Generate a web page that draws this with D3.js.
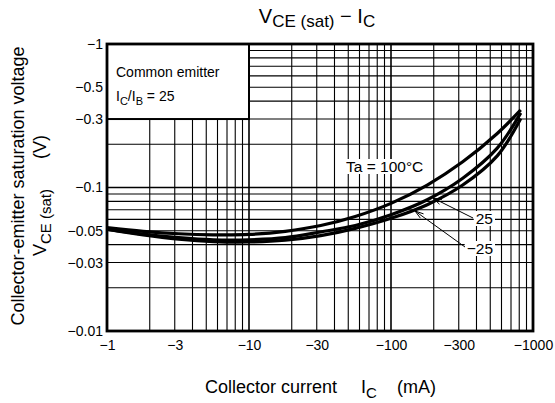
<!DOCTYPE html>
<html>
<head>
<meta charset="utf-8">
<script src="https://cdn.jsdelivr.net/npm/d3@7"></script>
<style>
  body { margin: 0; background: #fff; }
  text { font-family: "Liberation Sans", Arial, sans-serif; fill: #000; white-space: pre; }
</style>
</head>
<body>
<div id="canvas"></div>
<script>
// collector current (mA, magnitude) and VCE(sat) (V, magnitude)
const currents = [1, 1.8, 3.2, 5.6, 10, 18, 32, 56, 100, 180, 320, 560, 820];
const vHot  = [0.0525, 0.0495, 0.0476, 0.0468, 0.0471, 0.0495, 0.0543, 0.0628, 0.0775, 0.104, 0.151, 0.238, 0.347];
const vRoom = [0.0513, 0.0473, 0.0447, 0.0432, 0.0432, 0.0447, 0.0490, 0.0543, 0.0646, 0.0822, 0.116, 0.188, 0.331];
const vCold = [0.0513, 0.0468, 0.0437, 0.0420, 0.0417, 0.0429, 0.0462, 0.0519, 0.0610, 0.0759, 0.104, 0.166, 0.302];

const xTicks = [1, 3, 10, 30, 100, 300, 1000];
const yTicks = [0.01, 0.03, 0.05, 0.1, 0.3, 0.5, 1];

const margin = { Top: 44, Right: 22, Bottom: 72, Left: 107 };
const W = 555, H = 403;
const width = W - margin.Left - margin.Right;
const height = H - margin.Top - margin.Bottom;

const svg = d3.select('#canvas').append("svg")
    .attr("width", W)
    .attr("height", H);

const g = svg.append("g")
    .attr("transform", `translate(${margin.Left}, ${margin.Top})`);

const x = d3.scaleLog().domain([1, 1000]).range([0, width]);
const y = d3.scaleLog().domain([0.01, 1]).range([height, 0]);

// log grid: 1..9 in each decade
const gridX = [];
[1, 10, 100].forEach(d => { for (let k = 1; k < 10; k++) gridX.push(d * k); });
gridX.push(1000);
const gridY = [];
[0.01, 0.1].forEach(d => { for (let k = 1; k < 10; k++) gridY.push(d * k); });
gridY.push(1);

g.append("g").selectAll("line").data(gridX).enter().append("line")
    .attr("x1", d => x(d)).attr("x2", d => x(d))
    .attr("y1", 0).attr("y2", height)
    .attr("stroke", "#000")
    .attr("stroke-width", d => [1, 10, 100, 1000].includes(d) ? 1.6 : 1.1);

g.append("g").selectAll("line").data(gridY).enter().append("line")
    .attr("y1", d => y(d)).attr("y2", d => y(d))
    .attr("x1", 0).attr("x2", width)
    .attr("stroke", "#000")
    .attr("stroke-width", d => [0.01, 0.1, 1].includes(d) ? 1.6 : 1.1);

// condition box (top left)
g.append("rect")
    .attr("x", x(1)).attr("y", y(1))
    .attr("width", x(10) - x(1)).attr("height", y(0.3) - y(1))
    .attr("fill", "#fff").attr("stroke", "#000").attr("stroke-width", 2);
g.append("text").attr("x", 9).attr("y", 33).attr("font-size", 14).text("Common emitter");
const icib = g.append("text").attr("x", 9).attr("y", 57).attr("font-size", 14);
icib.append("tspan").text("I");
icib.append("tspan").attr("font-size", 11).attr("dy", 4).text("C");
icib.append("tspan").attr("dy", -4).text("/I");
icib.append("tspan").attr("font-size", 11).attr("dy", 4).text("B");
icib.append("tspan").attr("dy", -4).text(" = 25");

// white-backed text helper
function boxedText(tx, ty, str, anchor) {
    const bg = g.append("rect").attr("fill", "#fff");
    const t = g.append("text").attr("x", tx).attr("y", ty)
        .attr("text-anchor", anchor).attr("font-size", 15.5).text(str);
    const b = t.node().getBBox();
    bg.attr("x", b.x - 2).attr("y", b.y + 1).attr("width", b.width + 4).attr("height", b.height - 2);
    return b;
}

boxedText(239, 128, "Ta = 100°C", "start");

const series = [vHot, vRoom, vCold];
const line = d3.line()
    .x(d => x(d[0]))
    .y(d => y(d[1]))
    .curve(d3.curveCatmullRom);

g.append("g").selectAll("path").data(series).enter().append("path")
    .attr("d", s => line(currents.map((c, i) => [c, s[i]])))
    .attr("fill", "none")
    .attr("stroke", "#000")
    .attr("stroke-width", 3.2);

// "25" and "-25" labels with leader arrows
const labs = [
    { t: "25", lx: 386, ly: 180, sx: 366, sy: 174, ax: 326, ay: 154 },
    { t: "\u221225", lx: 386, ly: 210, sx: 358, sy: 203, ax: 308, ay: 167 }
];
labs.forEach(l => {
    boxedText(l.lx, l.ly, l.t, "end");
    g.append("line").attr("x1", l.sx).attr("y1", l.sy).attr("x2", l.ax).attr("y2", l.ay)
        .attr("stroke", "#000").attr("stroke-width", 1);
    const ang = Math.atan2(l.sy - l.ay, l.sx - l.ax);
    const a1 = ang + 0.3, a2 = ang - 0.3, len = 9;
    g.append("path")
        .attr("d", `M${l.ax + len * Math.cos(a1)},${l.ay + len * Math.sin(a1)}L${l.ax},${l.ay}L${l.ax + len * Math.cos(a2)},${l.ay + len * Math.sin(a2)}`)
        .attr("stroke", "#000").attr("fill", "none").attr("stroke-width", 1);
});

// frame
g.append("rect").attr("width", width).attr("height", height)
    .attr("fill", "none").attr("stroke", "#000").attr("stroke-width", 2.8);

// axes
const xAxisCall = d3.axisBottom(x).tickValues(xTicks).tickSize(0).tickPadding(9)
    .tickFormat(d => "\u2212" + d);
g.append("g").attr("class", "x axis")
    .attr("transform", `translate(0, ${height})`)
    .call(xAxisCall)
    .call(s => s.select(".domain").remove())
    .selectAll("text").attr("font-size", 14).attr("font-family", "Liberation Sans, Arial, sans-serif");

const yAxisCall = d3.axisLeft(y).tickValues(yTicks).tickSize(0).tickPadding(4)
    .tickFormat(d => "\u2212" + d);
g.append("g").attr("class", "y axis")
    .call(yAxisCall)
    .call(s => s.select(".domain").remove())
    .selectAll("text").attr("font-size", 14).attr("font-family", "Liberation Sans, Arial, sans-serif");

// title
const title = svg.append("text").attr("x", 317).attr("y", 23)
    .attr("text-anchor", "middle").attr("font-size", 20);
title.append("tspan").text("V");
title.append("tspan").attr("font-size", 17).attr("dy", 4).text("CE (sat)");
title.append("tspan").attr("dy", -4).text(" \u2212 I");
title.append("tspan").attr("font-size", 17).attr("dy", 4).text("C");

// x title
svg.append("text").attr("x", 205).attr("y", 393).attr("font-size", 18).text("Collector current");
const xt = svg.append("text").attr("x", 361).attr("y", 393).attr("font-size", 18);
xt.append("tspan").text("I");
xt.append("tspan").attr("font-size", 15).attr("dy", 5).text("C");
svg.append("text").attr("x", 397).attr("y", 393).attr("font-size", 18).text("(mA)");

// y title (two lines)
svg.append("text")
    .attr("transform", "translate(24, 186) rotate(-90)")
    .attr("text-anchor", "middle").attr("font-size", 18)
    .text("Collector-emitter saturation voltage");
const yt2 = svg.append("text")
    .attr("transform", "translate(46, 256) rotate(-90)")
    .attr("font-size", 18);
yt2.append("tspan").text("V");
yt2.append("tspan").attr("font-size", 15).attr("dy", 5).text("CE (sat)");
yt2.append("tspan").attr("dy", -5).text("      (V)");
</script>
</body>
</html>
